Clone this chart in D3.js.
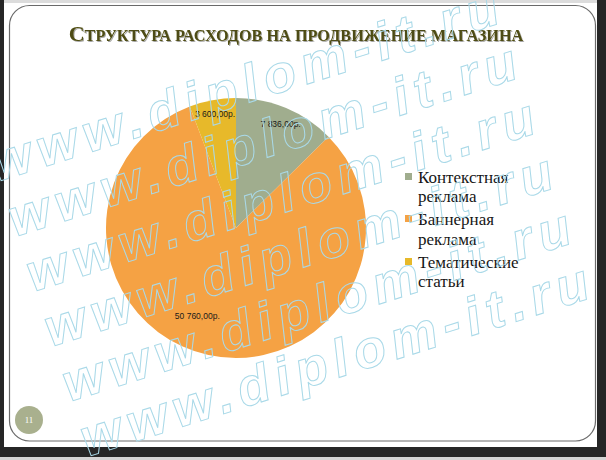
<!DOCTYPE html>
<html><head><meta charset="utf-8">
<script src="https://cdn.jsdelivr.net/npm/d3@7"></script>
<style>html,body{margin:0;padding:0;background:#262626;}svg{display:block;}</style>
</head><body>
<svg id="c" width="606" height="460"></svg>
<script>
// ---- data ----
const categories = ["Контекстная реклама", "Баннерная реклама", "Тематические статьи"];
const values = [7836, 50760, 3600];
const valueLabels = ["7 836,00р.", "50 760,00р.", "3 600,00р."];
const legendLines = [["Контекстная", "реклама"], ["Баннерная", "реклама"], ["Тематические", "статьи"]];
const titleText = "Структура расходов на продвижение магазина";
const pageNumber = "11";
const watermarkText = "www.diplom-it.ru";

// ---- layout / style ----
const colors = ["#a0ad8e", "#f5a244", "#e7b92a"];
const W = 606, H = 460;
const cx = 236, cy = 228, R = 130;
const labelRadiusFactor = [0.87, 0.74, 0.89];
const labelAngleShift = [0.01, 0.2, 0];

const svg = d3.select("#c");
const defs = svg.append("defs");
const sh = defs.append("filter").attr("id", "ts").attr("x", "-5%").attr("y", "-30%").attr("width", "110%").attr("height", "160%");
sh.append("feDropShadow").attr("dx", 1).attr("dy", 1).attr("stdDeviation", 0.6).attr("flood-color", "#000").attr("flood-opacity", 0.35);
defs.append("clipPath").attr("id", "wm").append("rect").attr("x", 0).attr("y", 0).attr("width", W).attr("height", 458);

// frame
svg.append("rect").attr("width", W).attr("height", H).attr("fill", "#262626");
svg.append("rect").attr("x", 4).attr("y", 0).attr("width", 593).attr("height", 447).attr("fill", "#ffffff");
svg.append("rect").attr("x", 4).attr("y", 0).attr("width", 593).attr("height", 3).attr("fill", "#dcdcdc");
svg.append("rect").attr("x", 0).attr("y", 457).attr("width", W).attr("height", 3).attr("fill", "#d4d4d4");
svg.append("rect").attr("x", 9.5).attr("y", 5.5).attr("width", 586).attr("height", 435.5)
  .attr("rx", 20).attr("fill", "none").attr("stroke", "#6a6a6a").attr("stroke-width", 1.2);

// title
const title = svg.append("text").attr("x", 296).attr("y", 41).attr("text-anchor", "middle")
  .attr("font-family", "'Liberation Serif', serif").attr("fill", "#4e4c12").attr("filter", "url(#ts)")
  .attr("font-weight", "bold");
const words = titleText.split(" ");
let big = 21, small = 15.5;
words.forEach((w, i) => {
  title.append("tspan").attr("class", i === 0 ? "big" : "sm").text((i > 0 ? " " : "") + w[0].toUpperCase());
  title.append("tspan").attr("class", "sm").text(w.slice(1).toUpperCase());
});
title.selectAll("tspan.big").attr("font-size", big);
title.selectAll("tspan.sm").attr("font-size", small);
const tw = title.node().getComputedTextLength();
const k = 455 / tw;
title.selectAll("tspan.big").attr("font-size", big * k);
title.selectAll("tspan.sm").attr("font-size", small * k);

// pie
const pie = d3.pie().sort(null).value(d => d)(values);
const arc = d3.arc().innerRadius(0).outerRadius(R);
const g = svg.append("g").attr("transform", `translate(${cx},${cy})`);
g.selectAll("path").data(pie).join("path").attr("d", arc).attr("fill", (d, i) => colors[i]);
g.selectAll("text").data(pie).join("text")
  .attr("transform", (d, i) => {
    const a = (d.startAngle + d.endAngle) / 2 + labelAngleShift[i];
    const r = R * labelRadiusFactor[i];
    return `translate(${r * Math.sin(a)},${-r * Math.cos(a)})`;
  })
  .attr("text-anchor", "middle").attr("dy", "0.35em")
  .attr("font-family", "'Liberation Sans', Arial, sans-serif").attr("font-size", 8.5).attr("fill", "#1a1a1a")
  .text((d, i) => valueLabels[i]);

// legend
const leg = svg.append("g").attr("transform", "translate(405,0)");
const baselines = [[183, 202], [225, 245], [268, 287]];
categories.forEach((c, i) => {
  leg.append("rect").attr("x", 0).attr("y", baselines[i][0] - 10).attr("width", 7).attr("height", 7).attr("fill", colors[i]);
  legendLines[i].forEach((ln, j) => {
    leg.append("text").attr("x", 13).attr("y", baselines[i][j])
      .attr("font-family", "'Liberation Serif', serif").attr("font-size", 17).attr("fill", "#161616").text(ln);
  });
});

// page number
svg.append("circle").attr("cx", 29).attr("cy", 420).attr("r", 14).attr("fill", "#a9b08e");
svg.append("text").attr("x", 29).attr("y", 423).attr("text-anchor", "middle")
  .attr("font-family", "'Liberation Serif', serif").attr("font-size", 9).attr("fill", "#ffffff").text(pageNumber);

// watermark
const rows = d3.range(6);
svg.append("g").attr("clip-path", "url(#wm)").selectAll("text").data(rows).join("text")
  .attr("transform", d => `translate(${-3 + d * 18},${182 + d * 55}) rotate(-17.5)`)
  .attr("font-family", "'Liberation Sans', Arial, sans-serif").attr("font-weight", "bold").attr("font-style", "italic")
  .attr("font-size", 53).attr("fill", "none").attr("stroke", "#a9d9e8").attr("stroke-width", 1)
  .attr("textLength", 530).attr("lengthAdjust", "spacing")
  .text(watermarkText);
</script>
</body></html>
